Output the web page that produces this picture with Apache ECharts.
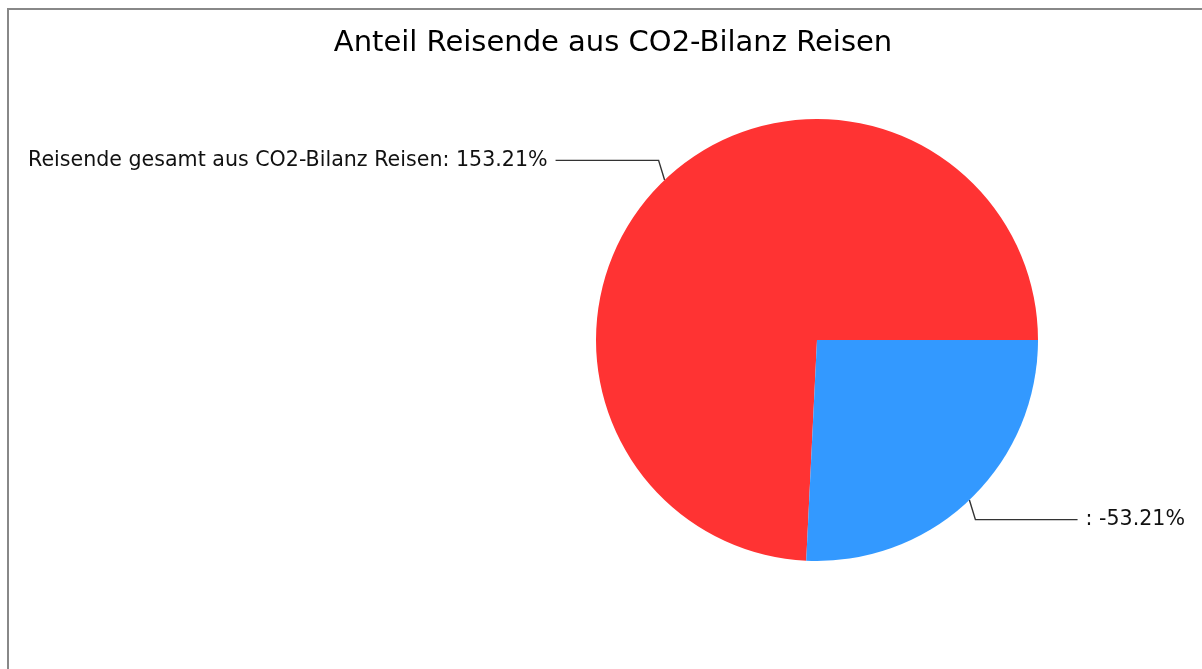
<!DOCTYPE html>
<html>
<head>
<meta charset="utf-8">
<script src="https://cdn.jsdelivr.net/npm/echarts@6/dist/echarts.min.js"></script>
<style>
  html, body { margin: 0; padding: 0; background: #fff; }
  #chart { width: 1202px; height: 669px; }
</style>
</head>
<body>
<div id="chart"></div>
<script>
// Share of travellers from the CO2 travel balance
const titleText = 'Anteil Reisende aus CO2-Bilanz Reisen';
const sliceNames = ['Reisende gesamt aus CO2-Bilanz Reisen', ''];
const sliceValues = [153.21, -53.21];
const sliceColors = ['#FF3333', '#3399FF'];

const FONT = '"DejaVu Sans", "Liberation Sans", sans-serif';

// Slice size follows the magnitude; labels keep the signed value
const pieData = sliceNames.map((name, i) => ({
  name: name,
  value: Math.abs(sliceValues[i]),
  signed: sliceValues[i],
  itemStyle: { color: sliceColors[i] },
  label: { edgeDistance: i === 0 ? 28 : 17 }
}));

const chart = echarts.init(document.getElementById('chart'), null, { renderer: 'canvas' });
chart.setOption({
  animation: false,
  backgroundColor: '#fff',
  title: {
    text: titleText,
    left: 608,
    textAlign: 'center',
    top: 24,
    textStyle: { fontFamily: FONT, fontSize: 29, fontWeight: 'normal', color: '#000' }
  },
  graphic: [
    { type: 'line', shape: { x1: 7, y1: 9, x2: 1202, y2: 9 }, style: { stroke: '#888', lineWidth: 2 } },
    { type: 'line', shape: { x1: 8, y1: 8, x2: 8, y2: 669 }, style: { stroke: '#888', lineWidth: 2 } }
  ],
  series: [{
    type: 'pie',
    center: [817, 340],
    radius: 221,
    startAngle: 0,
    clockwise: false,
    data: pieData,
    label: {
      show: true,
      alignTo: 'edge',
      distanceToLabelLine: 8,
      fontFamily: FONT,
      fontSize: 20.6,
      color: '#111',
      formatter: p => p.data.name + ': ' + p.data.signed.toFixed(2) + '%'
    },
    labelLine: {
      show: true,
      length: 27,
      length2: 10,
      lineStyle: { color: '#333', width: 1.4 }
    },
    // steepen the first link segment so it drops almost straight from the bend
    labelLayout: function (params) {
      const pts = params.labelLinePoints;
      if (!pts) return {};
      const dir = pts[2][0] < pts[0][0] ? -1 : 1;
      return {
        labelLinePoints: [pts[0], [pts[0][0] + dir * 6, pts[1][1]], pts[2]]
      };
    },
    emphasis: { disabled: true }
  }]
});
</script>
</body>
</html>
